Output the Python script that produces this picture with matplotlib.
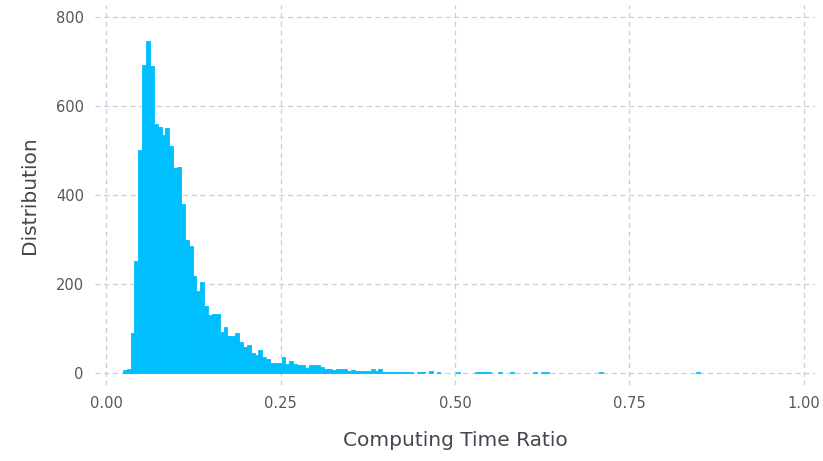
import numpy as np
import matplotlib
matplotlib.use("Agg")
import matplotlib.pyplot as plt

# histogram counts, one per bin (bins start at 0.024, width 0.00555)
counts = [
    5, 7, 88, 251, 501, 692, 746, 690, 559, 554,
    536, 550, 510, 460, 462, 379, 298, 284, 217, 184,
    203, 150, 129, 131, 131, 91, 102, 82, 82, 88,
    68, 57, 61, 43, 39, 50, 36, 30, 22, 22,
    22, 35, 20, 27, 20, 18, 16, 11, 16, 16,
    16, 13, 9, 9, 6, 9, 7, 7, 4, 5,
    4, 3, 4, 4, 7, 4, 7, 2, 1, 2,
    2, 2, 2, 2, 1, 0, 2, 2, 0, 4,
    0, 2, 0, 0, 0, 0, 2, 0, 0, 0,
    0, 2, 1, 1, 1, 0, 0, 1, 0, 0,
    1, 0, 0, 0, 0, 0, 1, 0, 1, 1,
    0, 0, 0, 0, 0, 0, 0, 0, 0, 0,
    0, 0, 0, 1, 0, 0, 0, 0, 0, 0,
    0, 0, 0, 0, 0, 0, 0, 0, 0, 0,
    0, 0, 0, 0, 0, 0, 0, 0, 1, 0,
]
bin_edges = np.linspace(0.024, 0.024 + 0.00555 * len(counts), len(counts) + 1)

x_ticks = [0.0, 0.25, 0.5, 0.75, 1.0]
x_ticklabels = ["0.00", "0.25", "0.50", "0.75", "1.00"]
y_ticks = [0, 200, 400, 600, 800]

bar_color = "#00bfff"
grid_color = "#cdcbdc"

fig = plt.figure(figsize=(8.23, 4.61), dpi=100)
ax = fig.add_axes([0.1154, 0.1649, 0.8748, 0.8243])

# empty bins get no outline so they don't leave a line along zero
edge_widths = [0.6 if c > 0 else 0 for c in counts]
ax.bar(bin_edges[:-1], counts, width=np.diff(bin_edges), align="edge",
       color=bar_color, edgecolor=bar_color, linewidth=edge_widths, zorder=2)

ax.set_xlim(-0.016, 1.016)
ax.set_ylim(-28, 828)
ax.set_xticks(x_ticks)
ax.set_xticklabels(x_ticklabels)
ax.set_yticks(y_ticks)

for s in ax.spines.values():
    s.set_visible(False)
ax.grid(True, color=grid_color, linewidth=0.9, linestyle=(0, (4, 3)), zorder=0)
ax.set_axisbelow(True)
ax.tick_params(length=0, pad=8, labelsize=10.5, labelcolor="#5a5460")

ax.set_xlabel("Computing Time Ratio", fontsize=14.5, color="#4b4350", labelpad=14)
ax.set_ylabel("Distribution", fontsize=14.5, color="#4b4350", labelpad=12)

fig.savefig("out.png", dpi=100, facecolor="white")
